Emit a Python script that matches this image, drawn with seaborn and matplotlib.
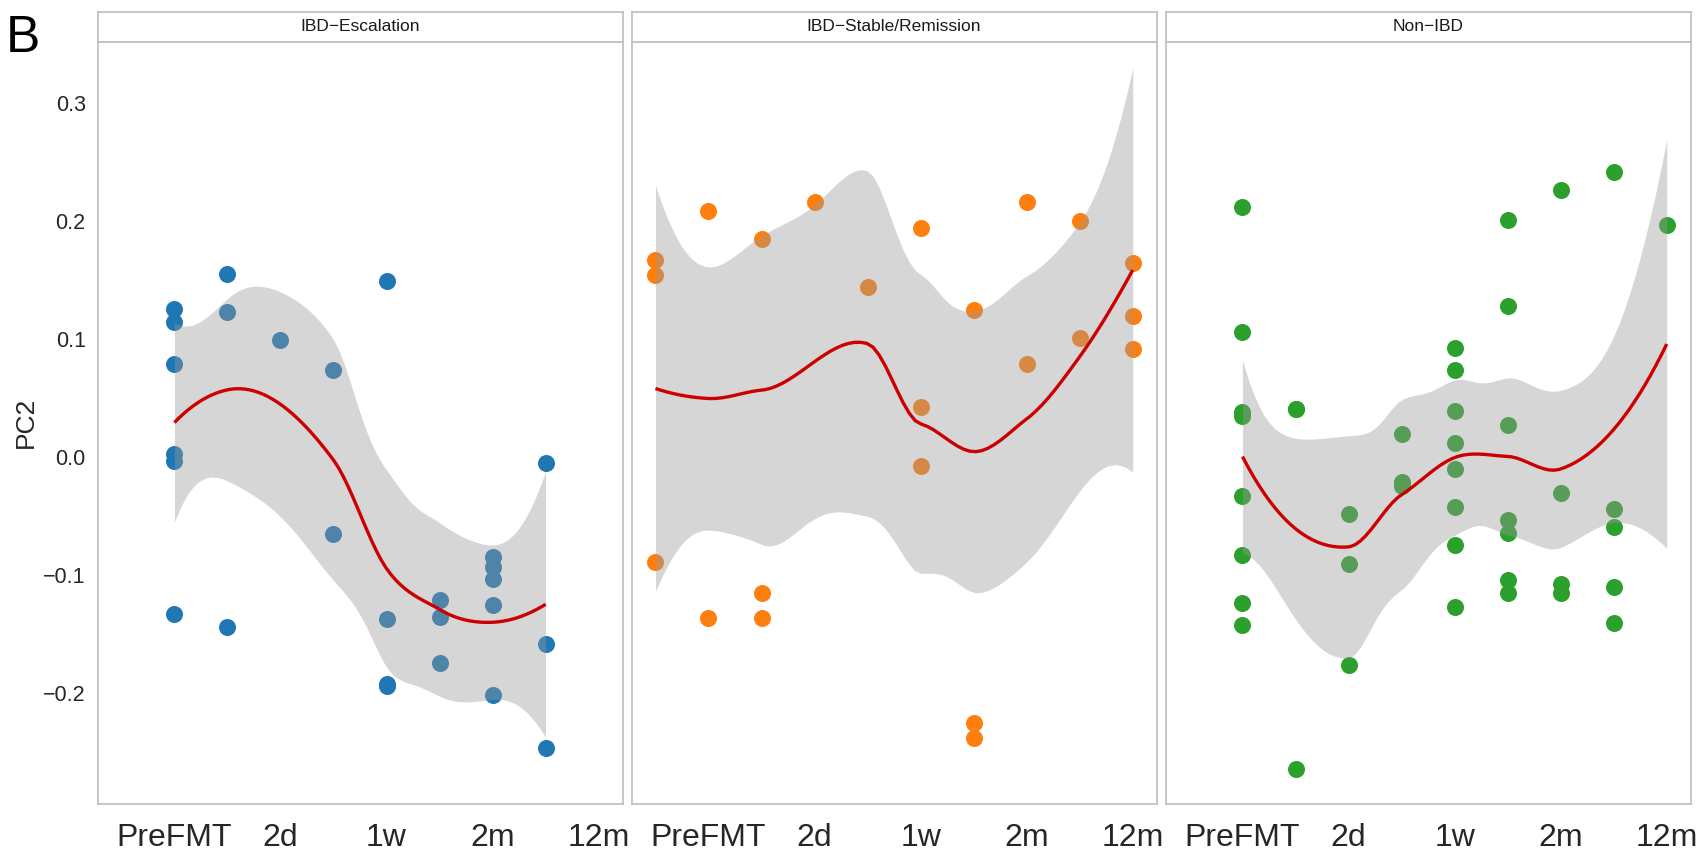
import numpy as np
import pandas as pd
import matplotlib
matplotlib.use("Agg")
import matplotlib.pyplot as plt
import seaborn as sns

# ---------------- data ----------------
panel_titles = ["IBD\u2212Escalation", "IBD\u2212Stable/Remission", "Non\u2212IBD"]
point_colors = ["#1F77B4", "#FF7F0E", "#2CA02C"]
tick_positions = [1, 3, 5, 7, 9]
tick_labels = ["PreFMT", "2d", "1w", "2m", "12m"]
y_ticks = [0.3, 0.2, 0.1, 0.0, -0.1, -0.2]
y_tick_labels = ["0.3", "0.2", "0.1", "0.0", "\u22120.1", "\u22120.2"]

esc_x = [1, 1, 1, 1, 1, 1, 2, 2, 2, 3, 4, 4, 5, 5, 5, 5, 6, 6, 6, 7, 7, 7, 7, 7, 8, 8, 8]
esc_y = [0.126, 0.115, 0.079, 0.003, -0.003, -0.133,
         0.155, 0.123, -0.144,
         0.099,
         0.074, -0.065,
         0.149, -0.137, -0.192, -0.194,
         -0.121, -0.135, -0.174,
         -0.084, -0.093, -0.103, -0.125, -0.201,
         -0.005, -0.158, -0.246]

stab_x = [0, 0, 0, 1, 1, 2, 2, 2, 3, 4, 5, 5, 5, 6, 6, 6, 7, 7, 8, 8, 9, 9, 9]
stab_y = [0.167, 0.154, -0.089,
          0.209, -0.136,
          0.185, -0.115, -0.136,
          0.216,
          0.144,
          0.194, 0.043, -0.007,
          0.125, -0.225, -0.238,
          0.216, 0.079,
          0.200, 0.101,
          0.165, 0.120, 0.092]

non_x = [1] * 8 + [2] * 3 + [3] * 3 + [4] * 3 + [5] * 8 + [6] * 7 + [7] * 4 + [8] * 5 + [9]
non_y = [0.212, 0.106, 0.038, 0.035, -0.033, -0.083, -0.123, -0.142,
         0.041, 0.041, -0.264,
         -0.048, -0.090, -0.176,
         0.020, -0.021, -0.024,
         0.093, 0.074, 0.039, 0.012, -0.010, -0.042, -0.074, -0.127,
         0.201, 0.128, 0.027, -0.053, -0.064, -0.104, -0.115,
         0.226, -0.030, -0.107, -0.115,
         0.242, -0.044, -0.059, -0.110, -0.140,
         0.197]

df = pd.concat([
    pd.DataFrame({"group": panel_titles[0], "time": esc_x, "PC2": esc_y}),
    pd.DataFrame({"group": panel_titles[1], "time": stab_x, "PC2": stab_y}),
    pd.DataFrame({"group": panel_titles[2], "time": non_x, "PC2": non_y}),
], ignore_index=True)


# ---------------- loess (local quadratic, kd-tree vertex interpolation) ----------------
def t_quantile(p, dof):
    try:
        from scipy import stats
        return float(stats.t.ppf(p, dof))
    except Exception:
        z = 1.959963984540054
        g1 = (z ** 3 + z) / 4
        g2 = (5 * z ** 5 + 16 * z ** 3 + 3 * z) / 96
        g3 = (3 * z ** 7 + 19 * z ** 5 + 17 * z ** 3 - 15 * z) / 384
        return z + g1 / dof + g2 / dof ** 2 + g3 / dof ** 3


def local_rows(x, x0, q):
    d = np.abs(x - x0)
    h = np.sort(d)[q - 1]
    if h <= 0:
        h = 1e-10
    u = d / h
    w = np.where(u < 1, (1 - u ** 3) ** 3, 0.0)
    X = np.column_stack([np.ones_like(x), x - x0, (x - x0) ** 2])
    XtW = X.T * w
    B = np.linalg.pinv(XtW @ X) @ XtW
    return B[0], B[1]


def kd_vertices(x, fc):
    xs = np.sort(x)
    n = len(xs)
    lo, hi = xs[0], xs[-1]
    mu = 0.005 * max(hi - lo, 1e-10 * max(abs(lo), abs(hi)) + 1e-30)
    verts = {lo - mu, hi + mu}
    cells = [(0, n - 1, lo - mu, hi + mu)]
    while cells:
        l, u, vl, vu = cells.pop(0)
        if (u - l + 1) <= fc:
            continue
        m = (l + u) // 2
        off = 0
        while True:
            if (m + off) >= u or (m + off) < l:
                break
            if xs[m + off] == xs[m + off + 1]:
                off = -off
                if off >= 0:
                    off += 1
                continue
            m = m + off
            break
        xi = xs[m]
        if xi == vl or xi == vu:
            continue
        verts.add(xi)
        cells.append((l, m, vl, xi))
        cells.append((m + 1, u, xi, vu))
    return np.array(sorted(verts))


def loess_operator(x, xe, span=0.75, cell=0.2):
    n = len(x)
    q = int(np.floor(n * span + 1e-5))
    fc = int(np.floor(n * span * cell))
    verts = kd_vertices(x, fc)
    V0, V1 = [], []
    for v in verts:
        r0, r1 = local_rows(x, v, q)
        V0.append(r0)
        V1.append(r1)
    V0, V1 = np.array(V0), np.array(V1)
    L = np.zeros((len(xe), n))
    for i, xv in enumerate(xe):
        j = int(np.clip(np.searchsorted(verts, xv, side="right") - 1, 0, len(verts) - 2))
        a, b = verts[j], verts[j + 1]
        wd = b - a
        h = (xv - a) / wd
        phi0 = (1 - h) ** 2 * (1 + 2 * h)
        phi1 = h ** 2 * (3 - 2 * h)
        psi0 = h * (1 - h) ** 2
        psi1 = -h ** 2 * (1 - h)
        L[i] = phi0 * V0[j] + phi1 * V0[j + 1] + (psi0 * V1[j] + psi1 * V1[j + 1]) * wd
    return L


def smooth(x, y, npts=80):
    x = np.asarray(x, float)
    y = np.asarray(y, float)
    xe = np.linspace(x.min(), x.max(), npts)
    Ld = loess_operator(x, x)
    Le = loess_operator(x, xe)
    res = y - Ld @ y
    M = np.eye(len(x)) - Ld
    MtM = M.T @ M
    one = np.trace(MtM)
    two = np.trace(MtM @ MtM)
    s = np.sqrt(np.sum(res ** 2) / one)
    dof = one ** 2 / two
    fit = Le @ y
    se = s * np.sqrt(np.sum(Le ** 2, axis=1))
    t = t_quantile(0.975, dof)
    return xe, fit, fit - t * se, fit + t * se


# ---------------- figure ----------------
sns.set_style("white")
plt.rcParams["font.family"] = ["Liberation Sans", "DejaVu Sans"]

W, H = 1698, 851
fig = plt.figure(figsize=(W / 100, H / 100), dpi=100)

panel_left_px = [97.5, 631.6, 1165.6]
panel_w_px = 525.0
panel_top_px, panel_bot_px = 41.7, 804.0
strip_top_px = 11.7
border_col = "#BEBEBE"

smooths = []
for g in panel_titles:
    sub = df[df["group"] == g]
    smooths.append(smooth(sub["time"].values, sub["PC2"].values))

ylim = (-0.2936, 0.352)
xmin, xmax = df["time"].min(), df["time"].max()
xpad = 0.05 * (xmax - xmin)
xlim = (xmin - xpad, xmax + xpad)

for i, g in enumerate(panel_titles):
    l = panel_left_px[i] / W
    b = 1 - panel_bot_px / H
    h = (panel_bot_px - panel_top_px) / H
    ax = fig.add_axes([l, b, panel_w_px / W, h])
    sub = df[df["group"] == g]
    sns.scatterplot(data=sub, x="time", y="PC2", color=point_colors[i], s=150,
                    linewidth=0, alpha=1, ax=ax, zorder=2, legend=False)
    xe, fit, lo_, hi_ = smooths[i]
    ax.fill_between(xe, lo_, hi_, color="#999999", alpha=0.4, linewidth=0, zorder=3)
    ax.plot(xe, fit, color="#CC0000", lw=2.4, zorder=4, solid_capstyle="butt")
    ax.set_xlim(*xlim)
    ax.set_ylim(*ylim)
    ax.set_xticks(tick_positions)
    ax.set_xticklabels(tick_labels, fontsize=23)
    ax.set_xlabel("")
    ax.set_yticks(y_ticks)
    if i == 0:
        ax.set_yticklabels(y_tick_labels, fontsize=15.5)
        ax.set_ylabel("PC2", fontsize=19, labelpad=4)
        ax.tick_params(axis="y", length=3.5, width=0.8, color="#999999", pad=5)
    else:
        ax.set_yticklabels([])
        ax.tick_params(axis="y", length=0)
        ax.set_ylabel("")
    ax.tick_params(axis="x", length=3.5, width=0.8, color="#999999", pad=10)
    for sp in ax.spines.values():
        sp.set_visible(True)
        sp.set_color(border_col)
        sp.set_linewidth(1.2)
    ax.grid(False)
    ax.set_facecolor("white")

    # facet strip
    sax = fig.add_axes([l, 1 - panel_top_px / H, panel_w_px / W, (panel_top_px - strip_top_px) / H])
    sax.set_xticks([])
    sax.set_yticks([])
    sax.set_facecolor("white")
    for sp in sax.spines.values():
        sp.set_visible(True)
        sp.set_color(border_col)
        sp.set_linewidth(1.2)
    sax.text(0.5, 0.5, g, ha="center", va="center", fontsize=12.5, color="#1A1A1A",
             transform=sax.transAxes)

fig.text(6 / W, 1 - 14 / H, "B", fontsize=37, ha="left", va="top", color="black")

fig.savefig("out.png", dpi=100)
